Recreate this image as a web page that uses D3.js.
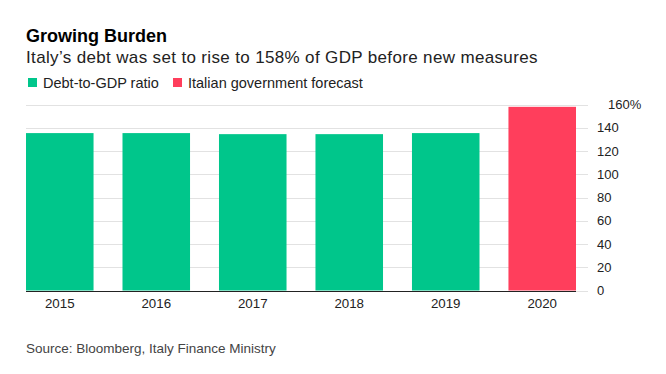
<!DOCTYPE html>
<html>
<head>
<meta charset="utf-8">
<script src="https://cdn.jsdelivr.net/npm/d3@7"></script>
<style>
  body { margin: 0; background: #fff; }
  svg { font-family: "Liberation Sans", Arial, sans-serif; }
</style>
</head>
<body>
<svg id="chart" width="666" height="374"></svg>
<script>
// chart data
const years = ["2015", "2016", "2017", "2018", "2019", "2020"];
const debtRatio = [135.4, 135.4, 134.5, 134.5, 135.4, 158];
const seriesOf = ["actual", "actual", "actual", "actual", "actual", "forecast"];
const yTicks = [0, 20, 40, 60, 80, 100, 120, 140, 160];
const legendLabels = ["Debt-to-GDP ratio", "Italian government forecast"];

const colors = { actual: "#00c68b", forecast: "#ff3e5c" };

const svg = d3.select("#chart");

// titles
svg.append("text")
  .attr("x", 26).attr("y", 42)
  .attr("font-size", 18).attr("font-weight", "bold").attr("fill", "#000")
  .text("Growing Burden");

svg.append("text")
  .attr("x", 26).attr("y", 63)
  .attr("font-size", 17).attr("fill", "#222")
  .attr("letter-spacing", 0.35)
  .text("Italy\u2019s debt was set to rise to 158% of GDP before new measures");

// legend
const legend = svg.append("g").attr("transform", "translate(28,78)");
const legendX = [0, 145];
legendLabels.forEach((lab, i) => {
  const g = legend.append("g").attr("transform", `translate(${legendX[i]},0)`);
  g.append("rect").attr("width", 9).attr("height", 9)
    .attr("fill", i === 0 ? colors.actual : colors.forecast);
  g.append("text").attr("x", 15).attr("y", 9.5)
    .attr("font-size", 14.5).attr("fill", "#222")
    .text(lab);
});

// scales
const x = d3.scaleBand()
  .domain(years)
  .range([26, 576])
  .paddingInner(0.3)
  .paddingOuter(0);

const y = d3.scaleLinear()
  .domain([0, 160])
  .range([290.5, 104.5]);

// gridlines
svg.append("g")
  .selectAll("line")
  .data(yTicks)
  .join("line")
  .attr("x1", 26).attr("x2", 588)
  .attr("y1", d => Math.round(y(d)) + 0.5)
  .attr("y2", d => Math.round(y(d)) + 0.5)
  .attr("stroke", "#e2e2e2")
  .attr("stroke-width", 1);

// baseline
svg.append("line")
  .attr("x1", 26).attr("x2", 576)
  .attr("y1", Math.round(y(0)) + 0.5).attr("y2", Math.round(y(0)) + 0.5)
  .attr("stroke", "#222");

// bars
svg.append("g")
  .selectAll("rect")
  .data(years.map((yr, i) => ({ year: yr, value: debtRatio[i], kind: seriesOf[i] })))
  .join("rect")
  .attr("x", d => x(d.year))
  .attr("width", x.bandwidth())
  .attr("y", d => y(d.value))
  .attr("height", d => y(0) - y(d.value))
  .attr("fill", d => colors[d.kind]);

// y axis labels (right side)
svg.append("g")
  .selectAll("text")
  .data(yTicks)
  .join("text")
  .attr("x", d => d === 160 ? 608 : 597)
  .attr("y", d => y(d))
  .attr("dy", "0.35em")
  .attr("font-size", 13)
  .attr("fill", "#222")
  .text(d => d === 160 ? d + "%" : d);

// x axis labels
svg.append("g")
  .selectAll("text")
  .data(years)
  .join("text")
  .attr("x", d => x(d) + x.bandwidth() / 2)
  .attr("y", 308)
  .attr("text-anchor", "middle")
  .attr("font-size", 13.3)
  .attr("fill", "#222")
  .text(d => d);

// source
svg.append("text")
  .attr("x", 26).attr("y", 353)
  .attr("font-size", 13.5).attr("fill", "#444")
  .text("Source: Bloomberg, Italy Finance Ministry");
</script>
</body>
</html>
